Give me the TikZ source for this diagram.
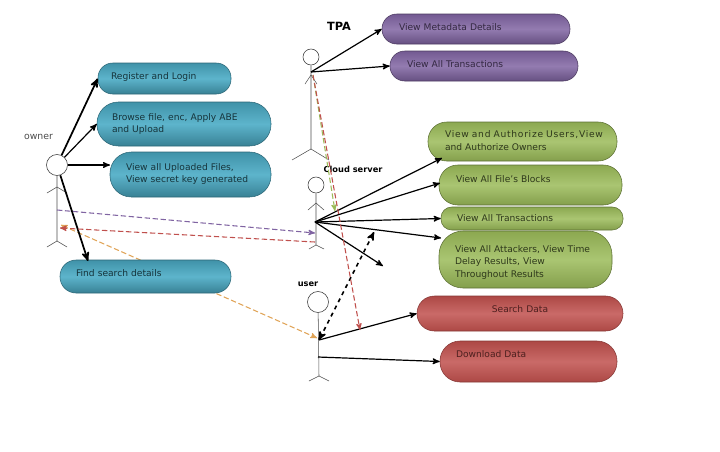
\documentclass[tikz,border=0pt]{standalone}
\usepackage{fontspec}
\setmainfont{DejaVu Sans}
\usetikzlibrary{arrows,positioning,backgrounds}
\definecolor{ownerblue}{HTML}{4BACC6}
\definecolor{tpapurple}{HTML}{8064A2}
\definecolor{cloudgreen}{HTML}{9BBB59}
\definecolor{userred}{HTML}{C0504D}
\definecolor{findorange}{HTML}{E0A458}
\tikzset{
    %Define standard arrow tip
    >=stealth',
    %Define style for use case boxes
    pill/.style={
           rectangle,
           rounded corners=11pt,
           inner xsep=0pt,
           inner ysep=0pt,
           align=left,
           text depth=3pt,
           font=\fontsize{6.85}{9.5}\selectfont},
    bluepill/.style={pill, draw=ownerblue!60!black, text=ownerblue!30!black,
           top color=ownerblue!85!black, bottom color=ownerblue!75!black, middle color=ownerblue!90!white},
    purplepill/.style={pill, draw=tpapurple!60!black, text=tpapurple!40!black,
           top color=tpapurple!90!black, bottom color=tpapurple!80!black, middle color=tpapurple!85!white},
    greenpill/.style={pill, draw=cloudgreen!60!black, text=cloudgreen!30!black,
           top color=cloudgreen!90!black, bottom color=cloudgreen!85!black, middle color=cloudgreen!85!white},
    redpill/.style={pill, draw=userred!70!black, text=userred!40!black,
           top color=userred!90!black, bottom color=userred!90!black, middle color=userred!85!white},
    %Define style for actors
    head/.style={circle, draw=black!80, fill=white, inner sep=0pt},
    limb/.style={draw=black!70, line width=0.4pt},
    actorname/.style={inner sep=0pt, font=\fontsize{6.2}{8}\selectfont\bfseries},
    % Define arrow styles
    arrow/.style={->, black, line width=0.9pt},
    thickarrow/.style={->, black, line width=1.3pt},
    dasharrow/.style={->, dash pattern=on 4pt off 2pt, line width=0.8pt}
}
\begin{document}
\begin{tikzpicture}[x=0.75pt, y=-0.75pt]
    \useasboundingbox (0,0) rectangle (720,451);

    % actors
    \node [head, minimum size=15.75pt] (ownerhead) at (57,165) {};
    \node [head, minimum size=12pt] (tpahead) at (311,57) {};
    \node [head, minimum size=12pt] (cloudhead) at (316,185) {};
    \node [head, minimum size=15.75pt] (userhead) at (318,302) {};
    \coordinate (ownerhip) at (57,241);
    \coordinate (tpahip) at (311,149);
    \coordinate (cloudhip) at (316,245);
    \coordinate (userhip) at (319,376);
    \coordinate (ownerarm) at (57,187);
    \coordinate (tpaarm) at (311,75);
    \coordinate (cloudarm) at (316,203);

    \node [actorname, font=\fontsize{7}{8}\selectfont, text=black!70] (ownername) at (38.5,137) {owner};
    \node [actorname, font=\fontsize{8.5}{10}\selectfont\bfseries] (tpaname) at (339,26) {TPA};
    \node [actorname] (cloudname) at (353,169) {Cloud server};
    \node [actorname] (username) at (308,284) {user};

    \draw [limb] (ownerhead) -- (ownerhip) -- ++(-10,6) (ownerhip) -- ++(10,6);
    \draw [limb] (ownerarm) -- ++(-10,6) (ownerarm) -- ++(10,6);
    \draw [limb] (tpahead) -- (tpahip) -- ++(-19,11) (tpahip) -- ++(18,11);
    \draw [limb] (tpaarm) -- ++(-6,9) (tpaarm) -- ++(6,9);
    \draw [limb] (cloudhead) -- (cloudhip) -- ++(-7,4) (cloudhip) -- ++(8,4);
    \draw [limb] (cloudarm) -- ++(-8,7) (cloudarm) -- ++(8,7);
    \draw [limb] (userhead) -- (userhip) -- ++(-10,5) (userhip) -- ++(10,5);

    % use cases of the owner
    \node [bluepill, minimum width=99.75pt, minimum height=23.25pt, text width=80.25pt] (registerpill) at (164.5,78.5) {Register and Login};
    \node [bluepill, rounded corners=16pt, minimum width=130.5pt, minimum height=33pt, text width=108pt, text depth=10.9pt] (browsepill) at (184,124) {Browse file, enc, Apply ABE\\and Upload};
    \node [bluepill, rounded corners=16pt, minimum width=120.75pt, minimum height=33.75pt, text width=96.75pt, text depth=11.6pt] (uploadedpill) at (190.5,174.5) {View all Uploaded Files,\\\mbox{View secret key generated}};
    \node [bluepill, rounded corners=12pt, minimum width=128.25pt, minimum height=24.75pt, text width=104.25pt, text depth=5.5pt] (findpill) at (145.5,276.5) {Find search details};

    % use cases of the TPA
    \node [purplepill, minimum width=141pt, minimum height=22.5pt, text width=115.5pt] (metadatapill) at (476,29) {View Metadata Details};
    \node [purplepill, minimum width=141pt, minimum height=22.5pt, text width=115.5pt] (tpatranspill) at (484,66) {View All Transactions};

    % use cases of the cloud server
    \node [greenpill, rounded corners=14pt, minimum width=141.75pt, minimum height=29.25pt, text width=116.25pt, text depth=10.5pt] (authorizepill) at (522.5,141.5) {\mbox{\addfontfeature{LetterSpace=8}View and Authorize Users,View}\\and Authorize Owners};
    \node [greenpill, rounded corners=14pt, minimum width=137.25pt, minimum height=30pt, text width=111.75pt, text depth=8.5pt] (blockspill) at (530.5,185) {View All File's Blocks};
    \node [greenpill, rounded corners=8pt, minimum width=136.5pt, minimum height=17.25pt, text width=112.5pt, text depth=1pt] (cloudtranspill) at (532,218.5) {View All Transactions};
    \node [greenpill, rounded corners=18pt, minimum width=129.75pt, minimum height=42.75pt, text width=105.75pt, text depth=16.2pt] (attackerspill) at (525.5,259.5) {\mbox{View All Attackers, View Time}\\Delay Results, View\\Throughout Results};

    % use cases of the user
    \node [redpill, rounded corners=13pt, minimum width=154.5pt, minimum height=26.25pt, text width=140pt, align=center, text depth=7pt] (searchpill) at (520,313.5) {Search Data};
    \node [redpill, rounded corners=15pt, minimum width=132.75pt, minimum height=30.75pt, text width=108.75pt, text depth=10.5pt] (downloadpill) at (528.5,361.5) {Download Data};

    % free ends of the connectors
    \coordinate (ownerdash) at (57,210);
    \coordinate (ownerin) at (60,228);
    \coordinate (ownerorange) at (61,225);
    \coordinate (uploadedin) at (110,165);
    \coordinate (tpafoot) at (313,75);
    \coordinate (tpahand) at (311,72);
    \coordinate (cloudhand) at (315,222);
    \coordinate (cloudin) at (315,233);
    \coordinate (cloudred) at (315,242);
    \coordinate (cloudgreenin) at (335,211);
    \coordinate (cloudfree) at (383,266);
    \coordinate (cloudup) at (374,232);
    \coordinate (userhand) at (319,340);
    \coordinate (userwaist) at (318,357);
    \coordinate (userorange) at (317,338);
    \coordinate (userredin) at (360,330);
    \coordinate (attackersin) at (441,238);
    \coordinate (authorizein) at (442,158);
    \coordinate (blocksin) at (440,183);
    \coordinate (findin) at (88,261);

    \path (ownerhead) edge[thickarrow] (registerpill.west);
    \path (ownerhead) edge[arrow] (browsepill.west);
    \path (ownerhead) edge[arrow] (uploadedin);
    \path (ownerhead) edge[thickarrow] (findin);

    \path (tpahand) edge[arrow] (metadatapill.west);
    \path (tpahand) edge[arrow] (tpatranspill.west);

    \path (cloudhand) edge[arrow] (authorizein);
    \path (cloudhand) edge[arrow] (blocksin);
    \path (cloudhand) edge[arrow] (cloudtranspill.west);
    \path (cloudhand) edge[arrow] (attackersin);
    \path (cloudhand) edge[arrow] (cloudfree);

    \path (userhand) edge[arrow] (searchpill.west);
    \path (userwaist) edge[arrow] (downloadpill.west);
    \path (userhand) edge[arrow, <->, dashed, line width=1.2pt] (cloudup);

    \path (ownerdash) edge[dasharrow, color=tpapurple] (cloudin);
    \path (cloudred) edge[dasharrow, color=userred] (ownerin);
    \path (tpafoot) edge[dasharrow, color=cloudgreen] (cloudgreenin);
    \path (tpafoot) edge[dasharrow, color=userred] (userredin);
    \begin{scope}[on background layer]
    \path (ownerorange) edge[dasharrow, <->, color=findorange] (userorange);
    \end{scope}
\end{tikzpicture}
\end{document}
